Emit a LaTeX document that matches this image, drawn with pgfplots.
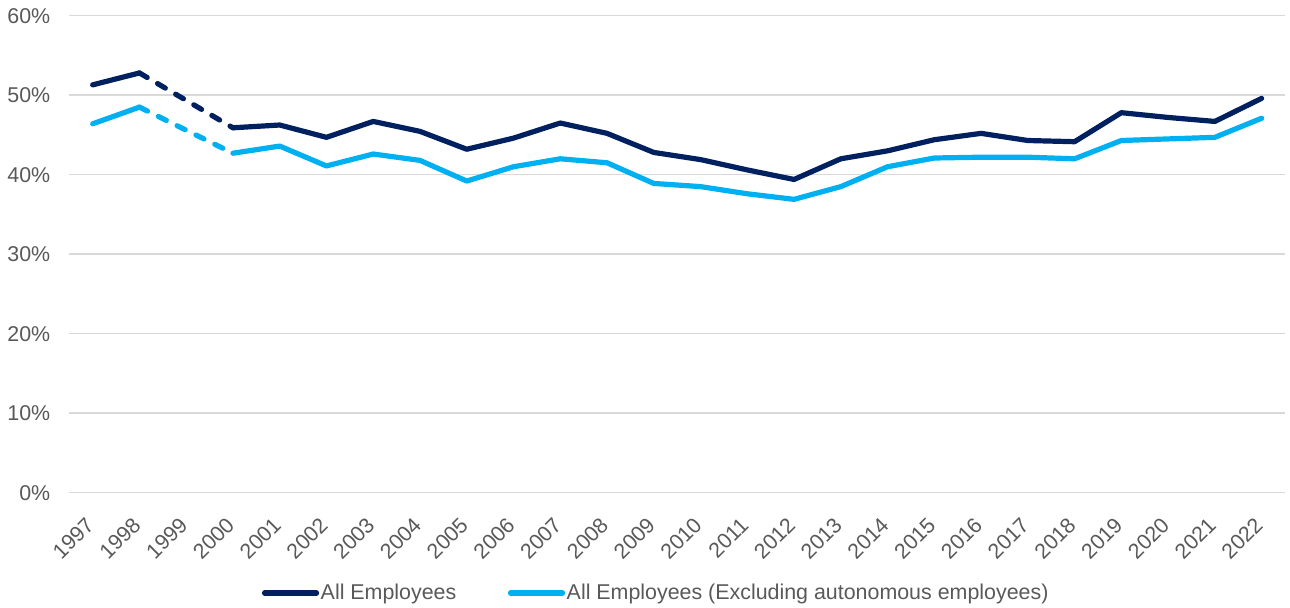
\documentclass[border=0pt]{standalone}
\usepackage{pgfplots}
\pgfplotsset{compat=1.18}
\usepackage{fontspec}
\setmainfont{Liberation Sans}
\definecolor{navy}{HTML}{002060}
\definecolor{sky}{HTML}{00B0F0}
\definecolor{txt}{HTML}{595959}
\definecolor{gridc}{HTML}{D9D9D9}
\begin{document}
\begin{tikzpicture}
\path[use as bounding box] (0,0) rectangle (645pt,304pt);
\begin{axis}[
  at={(34.65pt,57.65pt)}, anchor=south west,
  scale only axis, width=607.85pt, height=238.5pt,
  xmin=1996.5, xmax=2022.5, ymin=0, ymax=60,
  xtick={1997,...,2022}, ytick={0,10,...,60},
  axis line style={draw=none},
  major tick length=0pt,
  ymajorgrids, grid style={color=gridc, line width=0.75pt},
  font=\fontsize{10.7}{12}\selectfont,
  /pgf/number format/assume math mode=true,
  tick label style={color=txt},
  x tick label style={/pgf/number format/1000 sep=, yshift=-10pt, xshift=-4pt, rotate=45, anchor=north east, inner sep=1pt},
  yticklabel={\pgfmathprintnumber{\tick}\%},
  y tick label style={xshift=-6pt},
  legend style={at={(0.4826,-0.2103)}, anchor=center, draw=none, fill=none,
    legend columns=2, text=txt, font=\fontsize{10.7}{12}\selectfont,
    nodes={inner sep=0.8pt},
    /tikz/every even column/.append style={column sep=25pt}},
  legend image code/.code={\draw[#1, line cap=round] (0pt,0pt) -- (26pt,0pt);},
  legend cell align=left,
]
% dashed bridges over the missing 1999 value
\addplot[navy, line width=2.6pt, line cap=round, dash pattern=on 4.5pt off 6pt, forget plot]
  coordinates {(1998,52.8) (2000,45.9)};
\addplot[sky, line width=2.6pt, line cap=round, dash pattern=on 4.5pt off 6pt, forget plot]
  coordinates {(1998,48.5) (2000,42.7)};
% solid series
\addplot[navy, line width=2.6pt, line join=round, line cap=round, unbounded coords=jump] coordinates {
 (1997,51.3) (1998,52.8) (1999,nan) (2000,45.9) (2001,46.25) (2002,44.7) (2003,46.7)
 (2004,45.45) (2005,43.2) (2006,44.6) (2007,46.5) (2008,45.2) (2009,42.8)
 (2010,41.9) (2011,40.6) (2012,39.4) (2013,42.0) (2014,43.0) (2015,44.4)
 (2016,45.2) (2017,44.3) (2018,44.15) (2019,47.8) (2020,47.2) (2021,46.7) (2022,49.6)};
\addlegendentry{All Employees}
\addplot[sky, line width=2.6pt, line join=round, line cap=round, unbounded coords=jump] coordinates {
 (1997,46.4) (1998,48.5) (1999,nan) (2000,42.7) (2001,43.6) (2002,41.1) (2003,42.6)
 (2004,41.8) (2005,39.2) (2006,41.0) (2007,42.0) (2008,41.5) (2009,38.9)
 (2010,38.5) (2011,37.6) (2012,36.9) (2013,38.5) (2014,41.0) (2015,42.1)
 (2016,42.2) (2017,42.2) (2018,42.0) (2019,44.3) (2020,44.5) (2021,44.7) (2022,47.1)};
\addlegendentry{All Employees (Excluding autonomous employees)}
\end{axis}
\end{tikzpicture}
\end{document}
